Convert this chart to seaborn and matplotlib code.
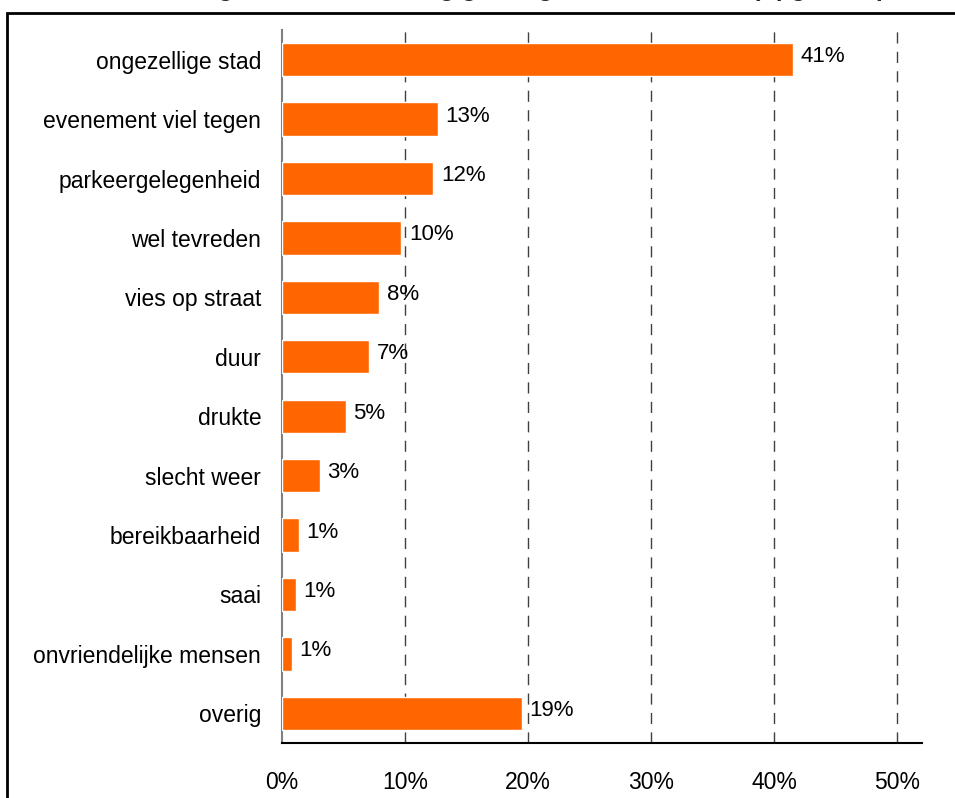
import matplotlib
matplotlib.use("Agg")
import matplotlib.pyplot as plt
import seaborn as sns
import pandas as pd
from matplotlib.patches import Rectangle

categories = ["ongezellige stad", "evenement viel tegen", "parkeergelegenheid",
              "wel tevreden", "vies op straat", "duur", "drukte", "slecht weer",
              "bereikbaarheid", "saai", "onvriendelijke mensen", "overig"]
values = [41.5, 12.7, 12.3, 9.7, 7.9, 7.1, 5.2, 3.1, 1.4, 1.1, 0.8, 19.5]
value_labels = ["41%", "13%", "12%", "10%", "8%", "7%", "5%", "3%", "1%", "1%", "1%", "19%"]
xticks = [0, 10, 20, 30, 40, 50]
xtick_labels = ["0%", "10%", "20%", "30%", "40%", "50%"]
title = "Waarom negatieve beoordeling gezelligheid binnenstad (opgave, spontaan genoemd)"

df = pd.DataFrame({"cat": categories, "val": values})

sns.set_style("white")
plt.rcParams['font.family'] = ['Liberation Sans', 'DejaVu Sans']

fig = plt.figure(figsize=(9.55, 7.98), dpi=100)
ax = fig.add_axes([282/955, 1-743/798, (922-282)/955, (743-30)/798])

sns.barplot(data=df, x="val", y="cat", orient="h", color="#FF6600",
            saturation=1, width=0.56, ax=ax, zorder=3)

ax.set_xlim(0, 52)
ax.set_ylim(11.5, -0.5)
ax.set_xticks(xticks)
ax.set_xticklabels(xtick_labels, fontsize=16.5, color="black")
ax.tick_params(axis="x", length=0, pad=20)
ax.tick_params(axis="y", length=0, pad=15, labelsize=16.5, labelcolor="black")
ax.set_xlabel("")
ax.set_ylabel("")

for x in xticks[1:]:
    ax.axvline(x, color="#404040", lw=1, ls=(0, (8, 6)), zorder=1)

for i, (v, lab) in enumerate(zip(values, value_labels)):
    ax.text(v + 0.6, i - 0.05, lab, va="center", ha="left", fontsize=16, color="black")

for s in ["top", "right"]:
    ax.spines[s].set_visible(False)
ax.spines["left"].set_color("#808080")
ax.spines["left"].set_linewidth(1.5)
ax.spines["bottom"].set_color("black")
ax.spines["bottom"].set_linewidth(1.5)

# outer chart border (partially outside the image)
fig.patches.append(Rectangle((7/955, -0.1), 1.2, 1.1 - 13/798, transform=fig.transFigure,
                             fill=False, edgecolor="black", lw=2, clip_on=False))

fig.text(0.62, 1 + 4.2/798, title, ha="center", va="baseline", fontsize=18,
         fontweight="bold")

fig.savefig("out.png", dpi=100)
